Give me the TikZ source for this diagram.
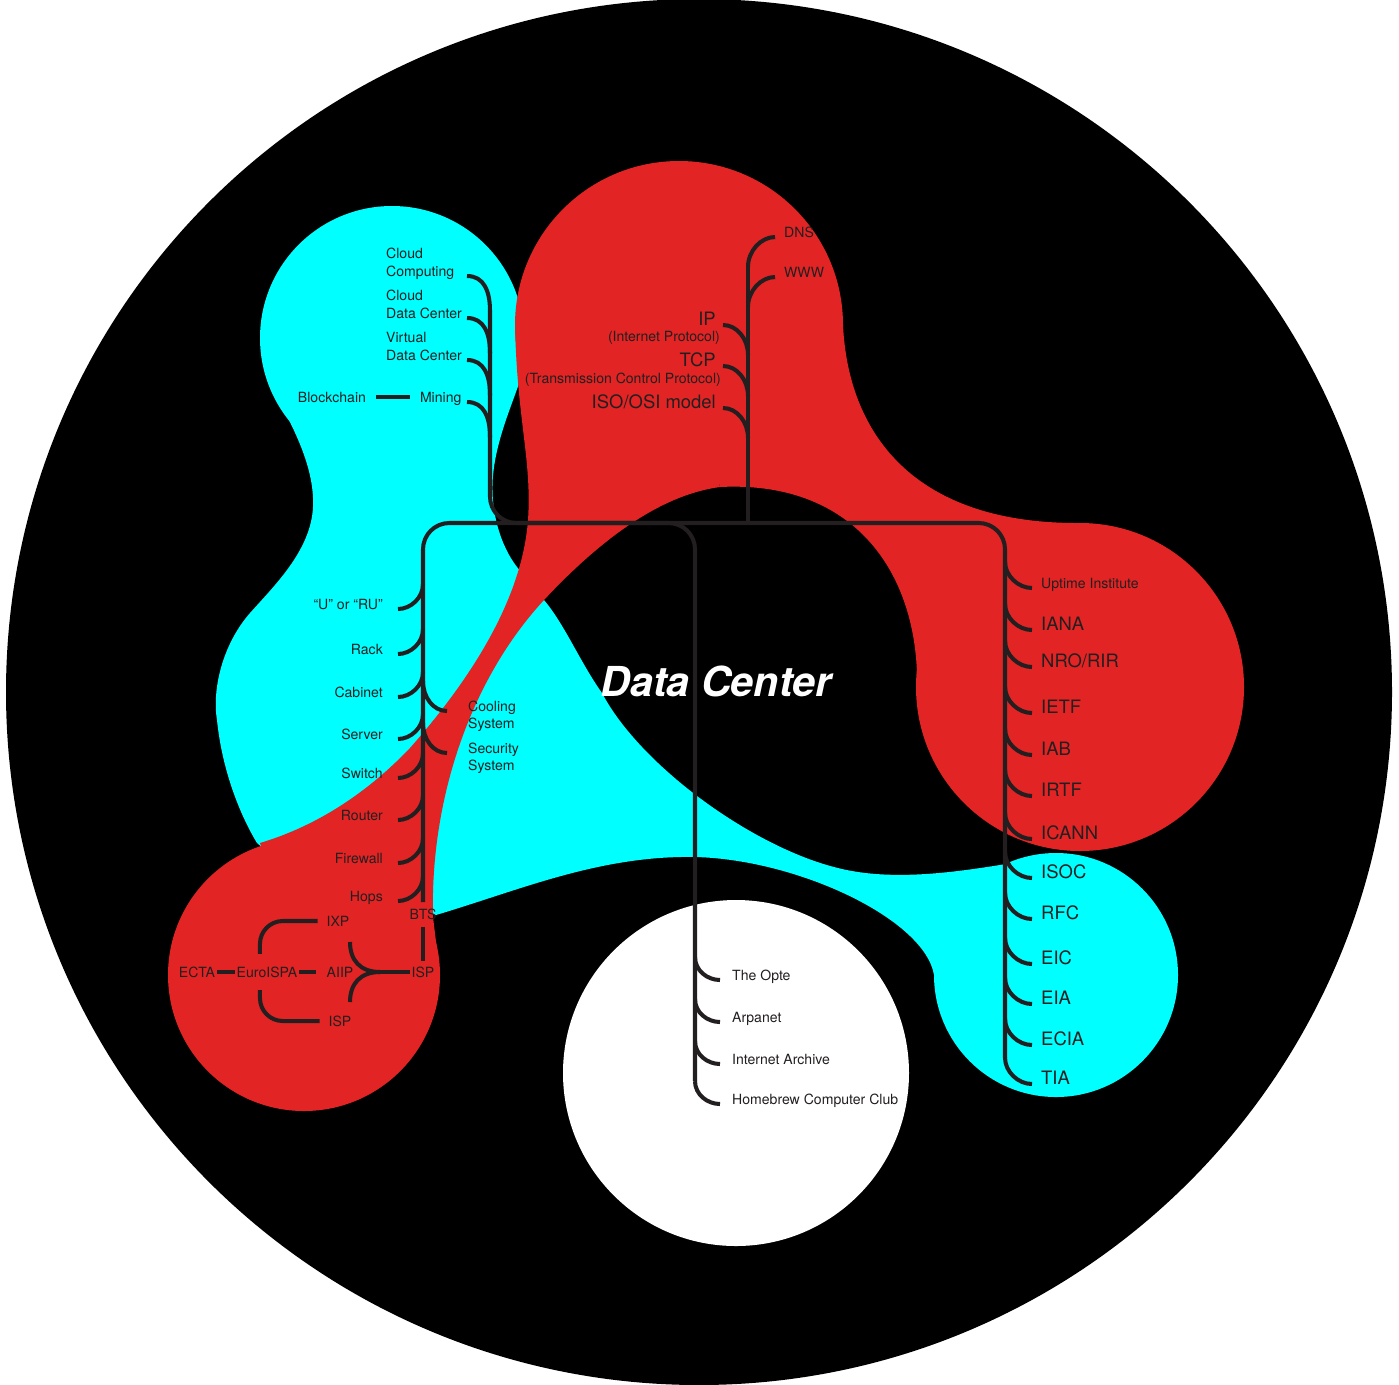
\documentclass[tikz,border=0pt]{standalone}
\usepackage{fontspec}
\setmainfont{TeX Gyre Heros}
\definecolor{dcred}{HTML}{E22424}
\definecolor{dccyan}{HTML}{00FFFF}
\definecolor{dcink}{HTML}{231F20}
\newcommand\twoline[3][b]{\begin{tabular}[#1]{@{}l@{}}#2\\#3\end{tabular}}

\begin{document}
\begin{tikzpicture}[x=0.02cm, y=-0.02cm,
    twig/.style={draw=dcink, line width=2.3pt},
    trunk/.style={draw=dcink, line width=2.3pt, rounded corners=15pt},
    link/.style={draw=dcink, line width=2.8pt},
    lbl/.style={text=dcink, font=\fontsize{8}{10}\selectfont},
    lbig/.style={text=dcink, font=\fontsize{10.5}{12}\selectfont}]
  \useasboundingbox (0,0) rectangle (1399,1384);
  \fill[white] (0,0) rectangle (1399,1384);
  \fill[black] (699,692) circle (693);

  % cyan blob
  \fill[dccyan] (392,338) circle (132);
  \fill[dccyan] (1056,975) circle (122);
  \fill[dccyan] (392,338) -- (267,380) .. controls (290,420) and (315,465) .. (313,507)
    .. controls (311,550) and (275,585) .. (250,613) .. controls (222,645) and (212,690) .. (217,720)
    .. controls (222,770) and (240,815) .. (257,843) -- (300,880) -- (436,915)
    .. controls (520,890) and (600,855) .. (696,857) .. controls (800,860) and (925,920) .. (934,975)
    -- (1056,975) -- (1048,857)
    .. controls (980,868) and (900,885) .. (834,867) .. controls (750,845) and (640,765) .. (602,693)
    .. controls (580,662) and (565,625) .. (544,600) -- (517,567)
    .. controls (500,545) and (490,510) .. (493,476) .. controls (496,440) and (512,405) .. (522,375)
    -- (522,330) -- cycle;

  % red blob
  \fill[dcred] (679,325) circle (164);
  \fill[dcred] (1080,687) circle (164);
  \fill[dcred] (304,975) circle (136);
  \fill[dcred] (843,325) .. controls (848,430) and (910,524) .. (1080,523) -- (1080,687) -- (917,690)
    .. controls (920,580) and (860,480) .. (720,487) -- (679,325) -- cycle;
  \fill[dcred] (679,325) -- (515,325) .. controls (517,420) and (532,460) .. (528,520)
    .. controls (522,600) and (470,680) .. (410,748) .. controls (370,790) and (320,825) .. (260,843)
    -- (304,975) -- (440,975) -- (433,917) .. controls (430,800) and (470,680) .. (544,600)
    .. controls (600,540) and (660,495) .. (720,487) -- cycle;

  \fill[white] (736,1073) circle (173);

  % trunks
  \coordinate (ccT) at (490,311); \coordinate (ccol) at (467,0);
  \coordinate (bus) at (748,523);
  \coordinate (ipT) at (748,267); \coordinate (ipcol) at (723,0); \coordinate (dnscol) at (775,0);
  \coordinate (rT) at (1005,1058); \coordinate (rcol) at (1032,0);
  \coordinate (lT) at (423,902); \coordinate (lcol) at (398,0); \coordinate (scol) at (447,0);
  \coordinate (dcT) at (695,1081); \coordinate (dccol) at (720,0);
  \draw[trunk] (ccT) |- (bus) -| (rT);
  \draw[trunk] (ipT) -- (bus);
  \draw[trunk] (lT) |- (dcT |- bus) -- (dcT);

  \node[text=white, font=\fontsize{23.5}{26}\selectfont\bfseries\itshape] (dc) at (716,681) {Data Center};

  % cloud
  \node[lbl, anchor=base west] (cc) at (380,276) {\twoline{Cloud}{Computing}};
  \node[lbl, anchor=base west] (cdc) at (380,318) {\twoline{Cloud}{Data Center}};
  \node[lbl, anchor=base west] (vdc) at (380,360) {\twoline{Virtual}{Data Center}};
  \node[lbl, anchor=base west, inner xsep=5.5pt] (mine) at (410,402) {Mining};
  \node[lbl, anchor=base east, inner xsep=5.5pt] (chain) at (376,402) {Blockchain};
  \draw[link] (chain.east) -- (chain.east -| mine.west);
  \foreach \n in {cc,cdc,vdc,mine}
    \draw[twig] (ccol |- \n.base) .. controls +(17,0) and +(0,-20) .. ([yshift=-20pt]ccT |- \n.base);

  % internet protocols
  \node[lbig, anchor=base east] (ip) at (722,325) {IP};
  \node[lbl, anchor=base east] (ipsub) at (726,341) {(Internet Protocol)};
  \node[lbig, anchor=base east] (tcp) at (722,366) {TCP};
  \node[lbl, anchor=base east] (tcpsub) at (727,383) {(Transmission Control Protocol)};
  \node[lbig, anchor=base east] (osi) at (722,408) {ISO/OSI model};
  \node[lbl, anchor=base west] (dns) at (778,237) {DNS};
  \node[lbl, anchor=base west] (www) at (778,277) {WWW};
  \foreach \n in {ip,tcp,osi}
    \draw[twig] (ipcol |- \n.base) .. controls +(14,0) and +(0,-16) .. ([yshift=-17pt]ipT |- \n.base);
  \foreach \n in {dns,www}
    \draw[twig] (dnscol |- \n.base) .. controls +(-14,0) and +(0,-16) .. ([yshift=-17pt]ipT |- \n.base);

  % organisations
  \node[lbl, anchor=base west] (upt) at (1035,588) {Uptime Institute};
  \node[lbig, anchor=base west] (iana) at (1035,630) {IANA};
  \node[lbig, anchor=base west] (nro) at (1035,667) {NRO/RIR};
  \node[lbig, anchor=base west] (ietf) at (1035,713) {IETF};
  \node[lbig, anchor=base west] (iab) at (1035,755) {IAB};
  \node[lbig, anchor=base west] (irtf) at (1035,796) {IRTF};
  \node[lbig, anchor=base west] (icann) at (1035,839) {ICANN};
  \node[lbig, anchor=base west] (isoc) at (1035,878) {ISOC};
  \node[lbig, anchor=base west] (rfc) at (1035,919) {RFC};
  \node[lbig, anchor=base west] (eic) at (1035,964) {EIC};
  \node[lbig, anchor=base west] (eia) at (1035,1004) {EIA};
  \node[lbig, anchor=base west] (ecia) at (1035,1045) {ECIA};
  \node[lbig, anchor=base west] (tia) at (1035,1084) {TIA};
  \foreach \n in {upt,iana,nro,ietf,iab,irtf,icann,isoc,rfc,eic,eia,ecia,tia}
    \draw[twig] (rcol |- \n.base) .. controls +(-14,0) and +(0,14) .. ([yshift=15pt]rT |- \n.base);

  % hardware
  \node[lbl, anchor=base east] (ru) at (389,609) {“U” or “RU”};
  \node[lbl, anchor=base east] (rack) at (389,654) {Rack};
  \node[lbl, anchor=base east] (cab) at (389,697) {Cabinet};
  \node[lbl, anchor=base east] (srv) at (389,739) {Server};
  \node[lbl, anchor=base east] (sw) at (389,778) {Switch};
  \node[lbl, anchor=base east] (rtr) at (389,820) {Router};
  \node[lbl, anchor=base east] (fw) at (389,863) {Firewall};
  \node[lbl, anchor=base east] (hops) at (389,901) {Hops};
  \foreach \n in {ru,rack,cab,srv,sw,rtr,fw,hops}
    \draw[twig] (lcol |- \n.base) .. controls +(13,0) and +(0,13) .. ([yshift=14pt]lT |- \n.base);
  \node[lbl, anchor=base west] (cool) at (462,711) {\twoline[t]{Cooling}{System}};
  \node[lbl, anchor=base west] (sec) at (462,753) {\twoline[t]{Security}{System}};
  \foreach \n in {cool,sec}
    \draw[twig] (scol |- \n.base) .. controls +(-14,0) and +(0,16) .. ([yshift=17pt]lT |- \n.base);

  % history
  \node[lbl, anchor=base west] (opte) at (726,980) {The Opte};
  \node[lbl, anchor=base west] (arpa) at (726,1022) {Arpanet};
  \node[lbl, anchor=base west] (arch) at (726,1064) {Internet Archive};
  \node[lbl, anchor=base west] (home) at (726,1104) {Homebrew Computer Club};
  \foreach \n in {opte,arpa,arch,home}
    \draw[twig] (dccol |- \n.base) .. controls +(-13,0) and +(0,13) .. ([yshift=13pt]dcT |- \n.base);

  % providers
  \node[lbl, inner sep=1pt] (ecta) at (197,972) {ECTA};
  \node[lbl, inner sep=1pt] (euro) at (267,972) {EuroISPA};
  \node[lbl, inner sep=1pt] (aiip) at (340,972) {AIIP};
  \node[lbl, inner sep=1pt] (ixp) at (338,921) {IXP};
  \node[lbl, inner sep=1pt] (ispl) at (340,1021) {ISP};
  \node[lbl, inner sep=1pt] (ispr) at (423,972) {ISP};
  \node[lbl, inner sep=1pt] (bts) at (423,914) {BTS};
  \coordinate (fk) at (380,972); \coordinate (fku) at (350,942); \coordinate (fkd) at (350,1002);
  \draw[link] (ecta) -- (euro);
  \draw[link, shorten >=5pt] (euro) -- (aiip);
  \draw[twig, rounded corners=13pt, shorten <=4pt, shorten >=6pt] (ixp.west) -| ([xshift=-4pt]euro.north);
  \draw[twig, rounded corners=13pt, shorten <=4pt, shorten >=6pt] (ispl.west) -| ([xshift=-4pt]euro.south);
  \draw[twig] (ispr.west) -- (fk);
  \draw[twig] (fk) .. controls +(-20,0) and +(0,18) .. (fku);
  \draw[twig] (fk) .. controls +(-20,0) and +(0,-18) .. (fkd);
  \draw[twig, shorten <=3pt, shorten >=2pt] (bts.south) -- (ispr.north);
\end{tikzpicture}
\end{document}
